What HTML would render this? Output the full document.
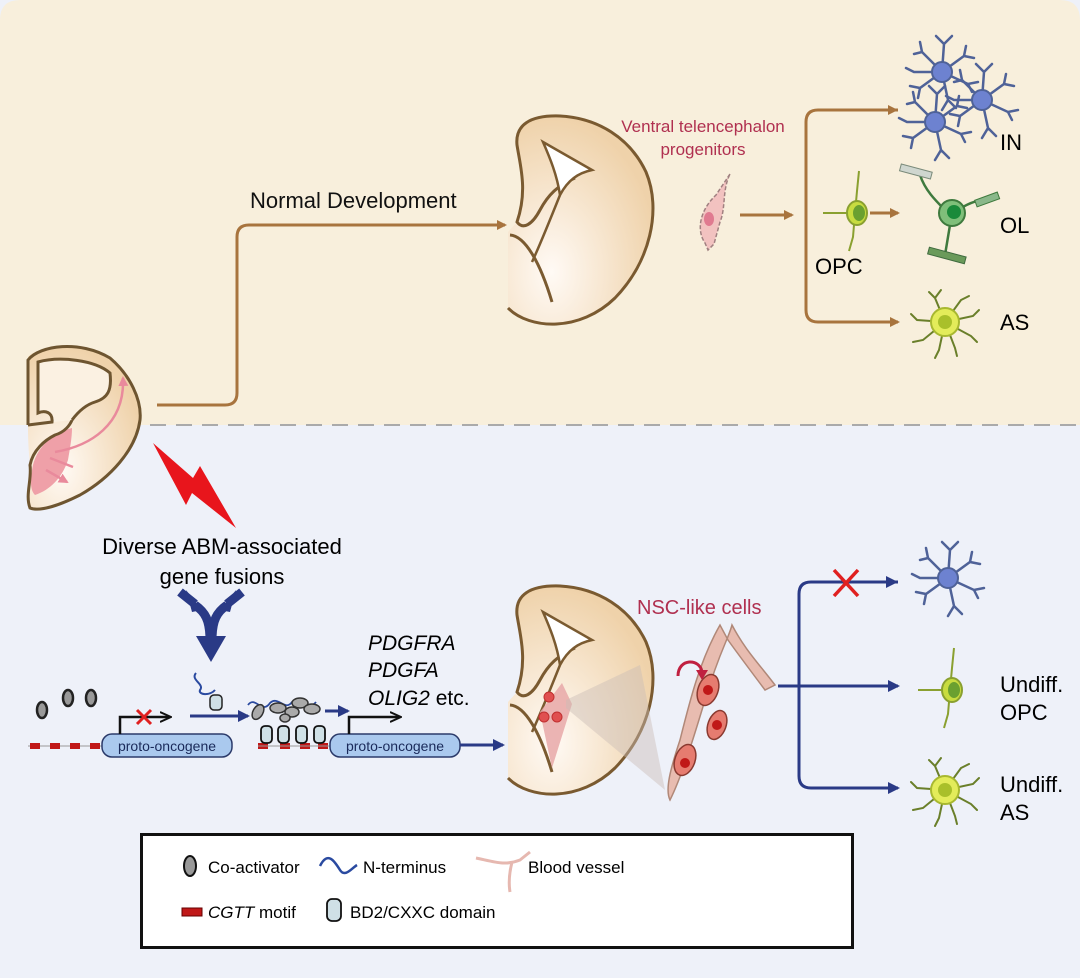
<!DOCTYPE html>
<html><head><meta charset="utf-8"><style>
html,body{margin:0;padding:0;background:#fff}
svg{display:block;font-family:"Liberation Sans",Arial,sans-serif}
</style></head><body>
<svg width="1080" height="978" viewBox="0 0 1080 978" xmlns="http://www.w3.org/2000/svg">
<defs>
<radialGradient id="bg1" cx="0.3" cy="0.75" r="0.75"><stop offset="0" stop-color="#fffaf5"/><stop offset="1" stop-color="#efd2aa"/></radialGradient>
<marker id="ab" markerWidth="10" markerHeight="10" refX="8" refY="5" orient="auto" markerUnits="userSpaceOnUse"><path d="M0 0 L10 5 L0 10 Z" fill="#a8743e"/></marker>
<marker id="ap" markerWidth="10" markerHeight="10" refX="8" refY="5" orient="auto" markerUnits="userSpaceOnUse"><path d="M0 0 L10 5 L0 10 Z" fill="#e98a9c"/></marker>
<marker id="an" markerWidth="12" markerHeight="12" refX="10" refY="6" orient="auto" markerUnits="userSpaceOnUse"><path d="M0 0 L12 6 L0 12 Z" fill="#2a3a86"/></marker>
<marker id="ak" markerWidth="12" markerHeight="12" refX="10" refY="6" orient="auto" markerUnits="userSpaceOnUse"><path d="M0 1 L11 6 L0 11" fill="none" stroke="#111" stroke-width="2"/></marker>
<g id="brain">
<path d="M508 232 L508 308 C530 330 580 332 615 298 C650 262 662 210 646 172 C630 138 598 118 560 116 C530 115 515 125 517 145 C520 165 528 190 517 222 Z" fill="url(#bg1)"/>
<path d="M508 308 C530 330 580 332 615 298 C650 262 662 210 646 172 C630 138 598 118 560 116 C530 115 515 125 517 145 C520 165 528 190 517 222 C523 230 532 225 540 210 C548 195 558 185 575 178" fill="none" stroke="#7a5a30" stroke-width="3"/>
<path d="M543 142 L592 170 C578 173 568 180 560 195 C557 175 550 158 543 142 Z" fill="#fff" stroke="#7a5a30" stroke-width="2.5"/>
<path d="M560 195 C550 220 540 245 532 262" fill="none" stroke="#7a5a30" stroke-width="2.5"/>
<path d="M510 235 C525 236 540 262 552 302" fill="none" stroke="#7a5a30" stroke-width="3"/>
</g>
<g id="neuron" stroke="#4f6298" stroke-width="2.5" fill="none" stroke-linecap="round">
<path d="M0 0 L-20 -20 L-28 -18 M-20 -20 L-22 -30 M0 0 L22 -16 L32 -14 M22 -16 L24 -26 M0 0 L26 12 L36 10 M26 12 L30 20 M0 0 L6 28 L0 38 M6 28 L14 36 M0 0 L-22 16 L-32 14 M-22 16 L-24 26 M0 0 L2 -28 L-6 -36 M2 -28 L10 -36 M0 0 L-28 0 L-36 -4"/>
<circle cx="0" cy="0" r="10" fill="#6d82d0" stroke="#4f6298" stroke-width="2"/>
</g>
<g id="astro" stroke="#6a7f2a" stroke-width="2" fill="none" stroke-linecap="round">
<path d="M0 0 L-10 -24 L-16 -30 M-10 -24 L-4 -32 M0 0 L16 -22 L24 -26 M0 0 L28 -6 L34 -12 M0 0 L26 14 L32 20 M0 0 L10 26 L12 34 M0 0 L-6 28 L-10 36 M0 0 L-22 18 L-32 20 M0 0 L-28 -2 L-34 -8"/>
<circle cx="0" cy="0" r="14" fill="#e3ec5a" stroke="#a8b830" stroke-width="2"/>
<circle cx="0" cy="0" r="7" fill="#a9c02a" stroke="none"/>
</g>
<g id="opc" stroke="#8aa030" stroke-width="2" fill="none">
<path d="M0 0 L-32 0 M0 0 L2 -22 L4 -42 M0 0 L-2 24 L-6 38"/>
<ellipse cx="2" cy="0" rx="10" ry="12" fill="#c8dc40" stroke="#8aa030"/>
<ellipse cx="4" cy="0" rx="6" ry="8" fill="#6aa030" stroke="none"/>
</g>
</defs>

<rect x="0" y="0" width="1080" height="978" fill="#eef1f9"/>
<path d="M0 20 Q0 0 20 0 H1060 Q1080 0 1080 20 V425 H0 Z" fill="#f8efdc"/>
<line x1="150" y1="425" x2="1080" y2="425" stroke="#aaa" stroke-width="2" stroke-dasharray="16 10"/>

<!-- small brain left -->
<path d="M28 357 C40 345 80 340 110 358 C130 375 142 400 140 420 C136 450 110 478 80 495 C60 505 40 512 30 508 C25 495 32 480 30 465 C28 445 28 430 28 425 Z" fill="url(#bg1)"/>
<path d="M72 428 C55 432 38 445 33 465 C30 480 30 490 35 495 C50 490 62 478 68 460 C70 448 72 438 72 428 Z" fill="#efa0a8"/>
<path d="M28 425 L28 360 C40 345 80 340 110 358 C130 375 142 400 140 420 C136 450 110 478 80 495 C60 505 40 512 30 508 C25 495 32 480 30 465 C33 450 45 440 55 435 C65 432 70 425 72 420" fill="none" stroke="#6e5530" stroke-width="3"/>
<path d="M28 425 L52 422 C53 412 45 410 38 413 L38 362 C60 356 95 360 110 373 C112 390 108 398 95 402 C85 405 78 412 72 420" fill="#fbf1e2" stroke="#6e5530" stroke-width="3"/>
<path d="M55 452 C90 446 125 425 123 378" fill="none" stroke="#e98a9c" stroke-width="2.5" marker-end="url(#ap)"/>
<path d="M50 458 L73 467 M46 470 L67 482" stroke="#e98a9c" stroke-width="2.5" marker-end="url(#ap)"/>

<path d="M157 405 H225 Q237 405 237 393 V237 Q237 225 249 225 H505" fill="none" stroke="#a8743e" stroke-width="3" marker-end="url(#ab)"/>
<text x="250" y="208" font-size="22" fill="#111">Normal Development</text>

<use href="#brain"/>

<text x="703" y="132" font-size="17" fill="#b03050" text-anchor="middle">Ventral telencephalon</text>
<text x="703" y="155" font-size="17" fill="#b03050" text-anchor="middle">progenitors</text>
<path d="M730 174 L716 195 C700 210 696 230 705 243 L708 250 L714 244 L720 222 C726 208 722 190 730 174 Z" fill="#f2c2c0" stroke="#a08080" stroke-width="1.5" stroke-dasharray="4 2"/>
<ellipse cx="709" cy="219" rx="5" ry="7" fill="#e07a90"/>
<line x1="740" y1="215" x2="792" y2="215" stroke="#a8743e" stroke-width="3" marker-end="url(#ab)"/>

<path d="M898 110 H818 Q806 110 806 122 V310 Q806 322 818 322 H898" fill="none" stroke="#a8743e" stroke-width="3" marker-end="url(#ab)"/>
<line x1="870" y1="213" x2="898" y2="213" stroke="#a8743e" stroke-width="3" marker-end="url(#ab)"/>
<path d="M898 110 L888 105 L888 115 Z" fill="#a8743e"/>
<use href="#neuron" x="942" y="72"/>
<use href="#neuron" x="982" y="100"/>
<use href="#neuron" x="935" y="122"/>
<text x="1000" y="150" font-size="22">IN</text>
<use href="#opc" x="855" y="213"/>
<text x="815" y="274" font-size="22">OPC</text>
<g stroke="#3f7a3e" stroke-width="2.5" fill="none">
<path d="M945 210 C935 200 925 190 920 175 M955 212 C965 205 975 200 985 200 M950 225 L945 255"/>
</g>
<rect x="900" y="168" width="32" height="7" fill="#cfd6cf" stroke="#7a8a7a" transform="rotate(15 916 171)"/>
<rect x="975" y="196" width="24" height="7" fill="#8ab88a" stroke="#3f7a3e" transform="rotate(-20 987 199)"/>
<rect x="928" y="252" width="38" height="7" fill="#6a9a5a" stroke="#3f6a3e" transform="rotate(15 947 255)"/>
<circle cx="952" cy="213" r="13" fill="#7fbf7a" stroke="#3f7a3e" stroke-width="2"/>
<circle cx="954" cy="212" r="7" fill="#1a8a3a"/>
<text x="1000" y="233" font-size="22">OL</text>
<use href="#astro" x="945" y="322"/>
<text x="1000" y="330" font-size="22">AS</text>

<!-- lightning -->
<path d="M153 443 L193 478 L200 466 L236 528 L192 493 L186 505 Z" fill="#e8151c"/>

<text x="222" y="554" font-size="22" text-anchor="middle">Diverse ABM-associated</text>
<text x="222" y="584" font-size="22" text-anchor="middle">gene fusions</text>
<path d="M180 592 L195 604 M242 592 L227 604" stroke="#2a3a86" stroke-width="9"/>
<path d="M186 590 L202 610 L192 612 Z" fill="#2a3a86"/>
<path d="M195 605 C205 612 210 620 210 640 M227 605 C217 612 212 620 212 640" stroke="#2a3a86" stroke-width="9" fill="none"/>
<path d="M196 636 L226 636 L211 662 Z" fill="#2a3a86"/>
<path d="M236 590 L220 610 L230 612 Z" fill="#2a3a86"/>

<g fill="#999" stroke="#222" stroke-width="2.5"><ellipse cx="42" cy="710" rx="5" ry="8"/><ellipse cx="68" cy="698" rx="5" ry="8"/><ellipse cx="91" cy="698" rx="5" ry="8"/></g>
<line x1="28" y1="746" x2="105" y2="746" stroke="#999" stroke-width="1"/>
<g fill="#c01818"><rect x="30" y="743" width="10" height="6"/><rect x="50" y="743" width="10" height="6"/><rect x="70" y="743" width="10" height="6"/><rect x="90" y="743" width="10" height="6"/><rect x="258" y="743" width="10" height="6"/><rect x="280" y="743" width="10" height="6"/><rect x="300" y="743" width="10" height="6"/><rect x="318" y="743" width="10" height="6"/></g>
<line x1="258" y1="746" x2="330" y2="746" stroke="#999" stroke-width="1"/>
<rect x="102" y="734" width="130" height="23" rx="10" fill="#aac9ee" stroke="#2b3a6a" stroke-width="1.5"/>
<text x="167" y="751" font-size="14" text-anchor="middle" fill="#1a2a5a">proto-oncogene</text>
<path d="M120 734 V717 H170" fill="none" stroke="#111" stroke-width="2.5" marker-end="url(#ak)"/>
<path d="M137 710 L151 724 M151 710 L137 724" stroke="#e02020" stroke-width="3"/>
<path d="M196 673 C190 680 205 684 200 690 C198 695 210 696 215 690" fill="none" stroke="#2a4aa0" stroke-width="2"/>
<rect x="210" y="695" width="12" height="15" rx="4" fill="#cfe0e6" stroke="#222" stroke-width="1.5"/>
<line x1="190" y1="716" x2="248" y2="716" stroke="#2a3a86" stroke-width="3" marker-end="url(#an)"/>
<path d="M248 705 C255 695 262 715 270 703 C278 695 285 712 292 702 C300 695 308 712 316 702" fill="none" stroke="#2a4aa0" stroke-width="1.8"/>
<g fill="#aaa" stroke="#333" stroke-width="1.5"><ellipse cx="258" cy="712" rx="5" ry="8" transform="rotate(30 258 712)"/><ellipse cx="278" cy="708" rx="8" ry="5"/><ellipse cx="292" cy="712" rx="7" ry="5"/><ellipse cx="300" cy="703" rx="8" ry="5"/><ellipse cx="312" cy="709" rx="8" ry="5"/><ellipse cx="285" cy="718" rx="5" ry="4"/></g>
<g fill="#cfe0e6" stroke="#111" stroke-width="1.8"><rect x="261" y="726" width="11" height="17" rx="4"/><rect x="278" y="726" width="11" height="17" rx="4"/><rect x="296" y="726" width="11" height="17" rx="4"/><rect x="314" y="726" width="11" height="17" rx="4"/></g>
<line x1="325" y1="711" x2="348" y2="711" stroke="#2a3a86" stroke-width="3" marker-end="url(#an)"/>
<text x="368" y="650" font-size="21" font-style="italic">PDGFRA</text>
<text x="368" y="677" font-size="21" font-style="italic">PDGFA</text>
<text x="368" y="705" font-size="21"><tspan font-style="italic">OLIG2</tspan> etc.</text>
<rect x="330" y="734" width="130" height="23" rx="10" fill="#aac9ee" stroke="#2b3a6a" stroke-width="1.5"/>
<text x="395" y="751" font-size="14" text-anchor="middle" fill="#1a2a5a">proto-oncogene</text>
<path d="M349 734 V717 H400" fill="none" stroke="#111" stroke-width="2.5" marker-end="url(#ak)"/>
<line x1="460" y1="745" x2="503" y2="745" stroke="#2a3a86" stroke-width="3" marker-end="url(#an)"/>

<use href="#brain" y="470"/>
<path d="M540 712 L562 683 L572 704 L552 768 Z" fill="#e8a8a8" opacity="0.85"/>
<path d="M566 700 L640 665 L665 790 L566 708 Z" fill="#c9bdb5" opacity="0.45"/>
<g fill="#e05050" stroke="#c03030"><circle cx="549" cy="697" r="5"/><circle cx="544" cy="717" r="5"/><circle cx="557" cy="717" r="5"/></g>
<text x="637" y="614" font-size="20" fill="#b03050">NSC-like cells</text>
<path d="M720 625 C700 660 690 700 680 740 C670 770 665 790 670 800 C680 780 690 750 705 700 C720 650 728 640 732 625 C745 650 760 665 775 685 L765 690 C750 670 735 650 728 640 Z" fill="#e8bcb0" stroke="#b08878" stroke-width="1.5"/>
<g fill="#e67c70" stroke="#8a3a30" stroke-width="1.5"><ellipse cx="708" cy="690" rx="10" ry="16" transform="rotate(20 708 690)"/><ellipse cx="717" cy="725" rx="9" ry="15" transform="rotate(20 717 725)"/><ellipse cx="685" cy="760" rx="10" ry="16" transform="rotate(20 685 760)"/></g>
<g fill="#c01818"><circle cx="708" cy="690" r="5"/><circle cx="717" cy="725" r="5"/><circle cx="685" cy="763" r="5"/></g>
<path d="M678 676 C678 658 700 658 702 672" fill="none" stroke="#c02040" stroke-width="3"/>
<path d="M696 670 L708 670 L702 680 Z" fill="#c02040"/>

<line x1="778" y1="686" x2="898" y2="686" stroke="#2a3a86" stroke-width="3" marker-end="url(#an)"/>
<path d="M898 582 H811 Q799 582 799 594 V776 Q799 788 811 788 H898" fill="none" stroke="#2a3a86" stroke-width="3" marker-end="url(#an)"/>
<path d="M898 582 L886 576 L886 588 Z" fill="#2a3a86"/>
<path d="M834 570 L858 596 M858 570 L834 596" stroke="#e02020" stroke-width="3.5"/>
<use href="#neuron" x="948" y="578"/>
<use href="#opc" x="950" y="690"/>
<text x="1000" y="692" font-size="22">Undiff.</text>
<text x="1000" y="720" font-size="22">OPC</text>
<use href="#astro" x="945" y="790"/>
<text x="1000" y="792" font-size="22">Undiff.</text>
<text x="1000" y="820" font-size="22">AS</text>

<rect x="141.5" y="834.5" width="711" height="113" fill="#fff" stroke="#111" stroke-width="3"/>
<ellipse cx="190" cy="866" rx="6" ry="10" fill="#999" stroke="#111" stroke-width="2"/>
<text x="208" y="873" font-size="17">Co-activator</text>
<path d="M320 866 C328 850 335 862 340 870 C345 878 352 868 357 865" fill="none" stroke="#2a4aa0" stroke-width="2.5"/>
<text x="363" y="873" font-size="17">N-terminus</text>
<path d="M476 858 C495 862 505 866 520 860 L530 852 M512 862 C510 870 508 880 510 892" fill="none" stroke="#e6b8b0" stroke-width="3"/>
<text x="528" y="873" font-size="17">Blood vessel</text>
<rect x="182" y="908" width="20" height="8" fill="#c01818" stroke="#600" stroke-width="1"/>
<text x="208" y="918" font-size="17"><tspan font-style="italic">CGTT</tspan> motif</text>
<rect x="327" y="899" width="14" height="22" rx="5" fill="#cfe0e6" stroke="#111" stroke-width="1.8"/>
<text x="350" y="918" font-size="17">BD2/CXXC domain</text>
</svg>
</body></html>
